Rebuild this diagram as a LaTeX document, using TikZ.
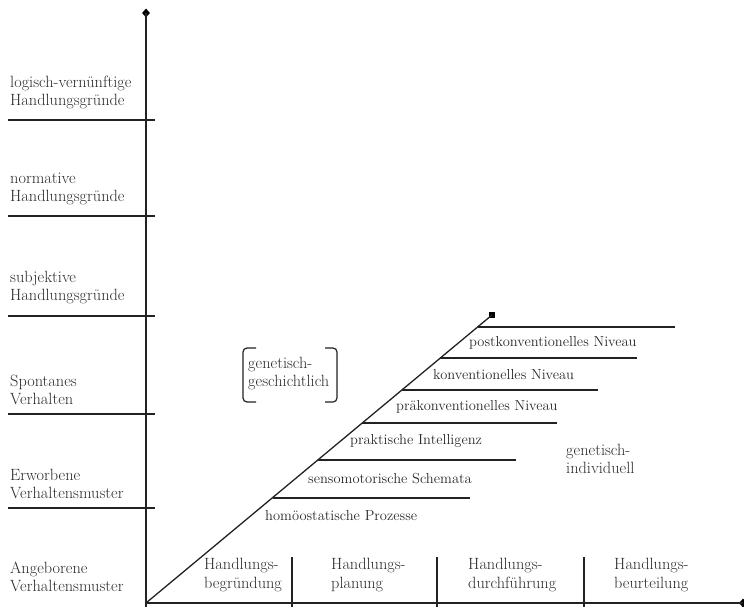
\documentclass[tikz,border=0pt]{standalone}
\usetikzlibrary{shapes.geometric}
\definecolor{txt}{HTML}{2A2A2A}
\definecolor{ln}{HTML}{222222}
\begin{document}
\begin{tikzpicture}[x=1pt,y=-1pt,
  lab/.style={anchor=west,align=left,inner sep=0pt,text=txt,font=\fontsize{16.3}{18}\selectfont},
  dlab/.style={anchor=west,inner sep=0pt,text=txt,font=\fontsize{14.5}{16}\selectfont},
  blab/.style={anchor=west,align=left,inner sep=0pt,text=txt,font=\fontsize{16.3}{18.5}\selectfont},
  axis/.style={draw=ln,line width=1.3pt},
  rule/.style={draw=ln,line width=1.3pt},
  tipmark/.style={diamond,fill=black,inner sep=0pt,minimum width=8pt,minimum height=9pt},
  endsq/.style={rectangle,fill=black,inner sep=0pt,minimum size=6.5pt}]
\useasboundingbox (0,0) rectangle (744,607);
% axes
\coordinate (O) at (146,603);
\node[tipmark] (ytop) at (146,13) {};
\node[tipmark] (xend) at (743,603) {};
\draw[axis] (146,607) -- (ytop.center);
\draw[axis] (146,603) -- (xend.center);
% left level lines
\foreach \yy in {120,216,316,414,508} \draw[rule] (8,\yy) -- (155,\yy);
% left labels
\node[lab] (l1) at (10,92) {logisch-vernünftige\\Handlungsgründe};
\node[lab] (l2) at (10,189) {normative\\Handlungsgründe};
\node[lab] (l3) at (10,288) {subjektive\\Handlungsgründe};
\node[lab] (l4) at (10,390) {Spontanes\\Verhalten};
\node[lab] (l5) at (10,484) {Erworbene\\Verhaltensmuster};
\node[lab] (l6) at (10,577) {Angeborene\\Verhaltensmuster};
% diagonal
\node[endsq] (sq) at (492,315) {};
\draw[axis] (O) -- (sq.center);
% horizontal lines from diagonal
\draw[rule] (478,327) -- (675,327);
\draw[rule] (440,358) -- (637,358);
\draw[rule] (402,390) -- (598,390);
\draw[rule] (362,423) -- (557,423);
\draw[rule] (318,460) -- (516,460);
\draw[rule] (273,498) -- (470,498);
% diagonal labels
\node[dlab] (d1) at (469,343) {postkonventionelles Niveau};
\node[dlab] (d2) at (433,375) {konventionelles Niveau};
\node[dlab] (d3) at (396,407) {präkonventionelles Niveau};
\node[dlab] (d4) at (350,441) {praktische Intelligenz};
\node[dlab] (d5) at (308,479) {sensomotorische Schemata};
\node[dlab] (d6) at (265,516) {homöostatische Prozesse};
% genetisch labels
\node[lab] (gg) at (248,374) {genetisch-\\geschichtlich};
\draw[ln,line width=1.2pt,rounded corners=4pt] (256,348) -- (243,348) -- (243,402) -- (256,402);
\draw[ln,line width=1.2pt,rounded corners=4pt] (325,348) -- (337,348) -- (337,402) -- (325,402);
\node[lab] (gi) at (566,459) {genetisch-\\individuell};
% dividers
\foreach \xx in {292,437,584} \draw[rule] (\xx,557) -- (\xx,607);
% bottom labels
\node[blab] (b1) at (204,575) {Handlungs-\\begründung};
\node[blab] (b2) at (331,575) {Handlungs-\\planung};
\node[blab] (b3) at (468,575) {Handlungs-\\durchführung};
\node[blab] (b4) at (614,575) {Handlungs-\\beurteilung};
\end{tikzpicture}
\end{document}
